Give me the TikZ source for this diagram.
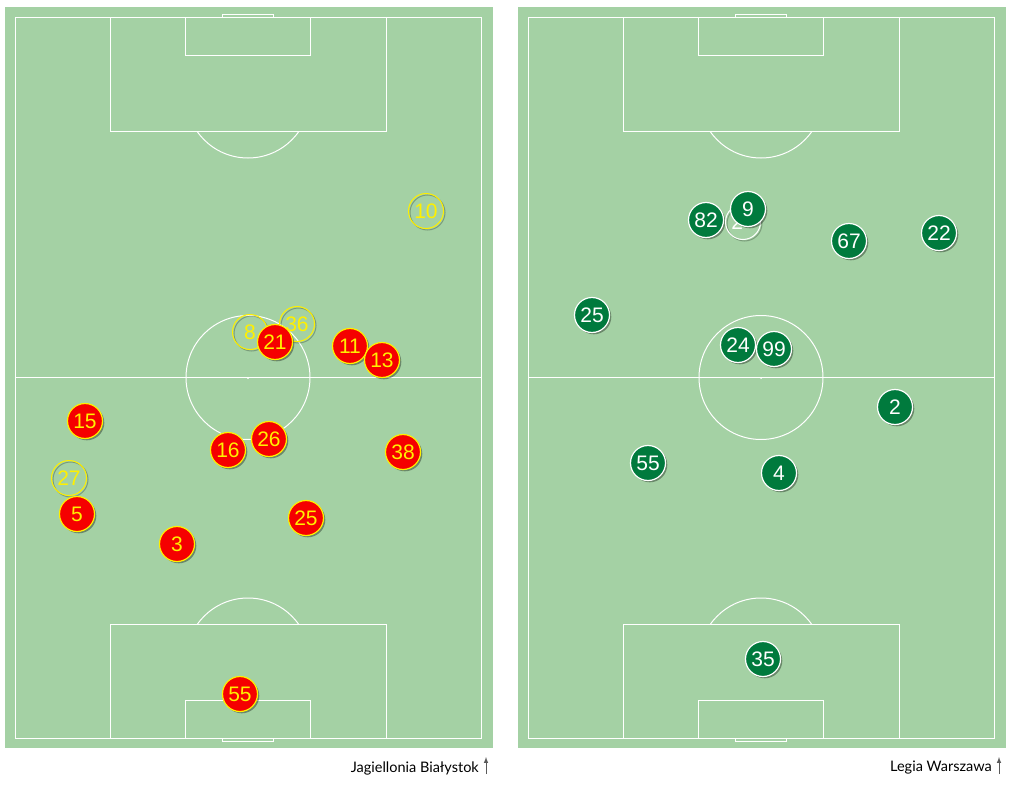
\documentclass[tikz,border=0pt]{standalone}
\usepackage{fontspec}
\setmainfont{Lato}
\newfontfamily\numfont{Liberation Sans}
\usetikzlibrary{shadows}
\definecolor{pitchgreen}{RGB}{164,209,164}
\definecolor{jagred}{RGB}{245,0,0}
\definecolor{jagyellow}{RGB}{255,240,0}
\definecolor{leggreen}{RGB}{0,122,61}
\definecolor{labelgray}{RGB}{90,90,90}

\begin{document}
\begin{tikzpicture}[x=1pt,y=-1pt,
        pitchline/.style={white,line width=1pt},
        player/.style={circle,minimum size=35pt,inner sep=0pt,
            font=\numfont\fontsize{21}{21}\selectfont},
        solidshadow/.style={drop shadow={shadow xshift=1.8pt,shadow yshift=-1.8pt,
            fill=black,opacity=0.35}},
        ringshadow/.style={preaction={draw=black,opacity=0.25,
            transform canvas={xshift=1.5pt,yshift=-1.5pt}}},
        jag/.style={player,solidshadow,fill=jagred,draw=jagyellow,line width=1.2pt,text=jagyellow},
        jagsub/.style={player,ringshadow,draw=jagyellow,line width=1pt,text=jagyellow},
        leg/.style={player,solidshadow,fill=leggreen,draw=white,line width=1.2pt,text=white},
        legsub/.style={player,ringshadow,draw=white,line width=1pt,text=white},
        teamlabel/.style={anchor=east,inner sep=0pt,font=\fontsize{14.5}{14.5}\selectfont},
        uparrow/.style={labelgray,line width=1pt,-latex}
    ]
    \useasboundingbox (0,0) rectangle (1013,787);

    % the two pitches
    \foreach \px in {0,513}{
        \begin{scope}[xshift=\px pt]
            \fill [pitchgreen] (5,7) rectangle (493,748);
            \draw [pitchline] (15,17) rectangle (481,738);
            \draw [pitchline] (15,377.5) -- (481,377.5);
            \draw [pitchline] (248,377.5) circle (62);
            \fill [white] (248,378) circle (1);
            % top end
            \draw [pitchline] (110,17) rectangle (386,131);
            \draw [pitchline] (185,17) rectangle (310,55);
            \draw [pitchline] (222,17) -- (222,14) -- (273,14) -- (273,17);
            \begin{scope}
                \clip (110,131.5) rectangle (386,170);
                \draw [pitchline] (248,96) circle (62);
            \end{scope}
            % bottom end
            \draw [pitchline] (110,624) rectangle (386,738);
            \draw [pitchline] (185,700) rectangle (310,738);
            \draw [pitchline] (222,738) -- (222,741) -- (273,741) -- (273,738);
            \begin{scope}
                \clip (110,580) rectangle (386,623.5);
                \draw [pitchline] (248,660) circle (62);
            \end{scope}
        \end{scope}
    }

    % Jagiellonia
    \foreach \num/\x/\y in {10/426/211, 8/250/332, 36/297/324, 27/69/478}
        \node [jagsub] (jagsub\num) at (\x,\y) {\num};
    \foreach \num/\x/\y in {21/275/342, 11/350/346, 13/382/360, 15/85/421,
        16/228/450, 26/269/439, 38/403/452, 5/77/514, 25/306/518, 3/177/544, 55/240/694}
        \node [jag] (jag\num) at (\x,\y) {\num};

    % Legia
    \foreach \num/\x/\y in {82/706/220}
        \node [leg] (leg\num) at (\x,\y) {\num};
    \node [legsub] (legsub2) at (743,222) {2\phantom{0}};
    \foreach \num/\x/\y in {9/748/209, 67/849/241, 22/939/233, 25/592/315,
        24/738/345, 99/774/349, 2/895/407, 55/648/463, 4/779/473, 35/763/659}
        \node [leg] (leg\num) at (\x,\y) {\num};

    % team names
    \node [teamlabel] (lblJag) at (479,768) {Jagiellonia Białystok};
    \node [teamlabel] (lblLeg) at (992,768) {Legia Warszawa};
    \coordinate (jagfoot) at (486,774);
    \coordinate (legfoot) at (999,774);
    \draw [uparrow] (jagfoot) -- ++(0,-17);
    \draw [uparrow] (legfoot) -- ++(0,-17);
\end{tikzpicture}
\end{document}
